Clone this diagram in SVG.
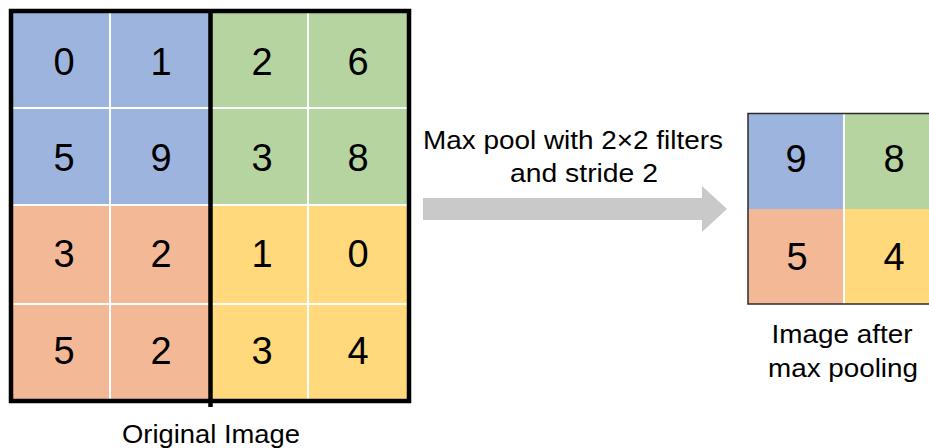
<svg xmlns="http://www.w3.org/2000/svg" width="929" height="448" viewBox="0 0 929 448">
<style>
.blue{fill:#9db4de}
.green{fill:#b5d4a0}
.orange{fill:#f3b996}
.yellow{fill:#ffd97b}
.sep{stroke:#ffffff;stroke-width:2;fill:none}
.num{font-family:"Liberation Sans",Arial,sans-serif;font-size:38px;fill:#000;text-anchor:middle}
.lbl{font-family:"Liberation Sans",Arial,sans-serif;font-size:26px;fill:#000;text-anchor:middle}
</style>
<rect width="929" height="448" fill="#ffffff"/>
<g id="original-image">
  <rect class="blue" x="13" y="13" width="196" height="192"/>
  <rect class="green" x="211" y="13" width="196" height="192"/>
  <rect class="orange" x="13" y="205" width="196" height="194"/>
  <rect class="yellow" x="211" y="205" width="196" height="194"/>
  <line class="sep" x1="110" y1="13" x2="110" y2="399"/>
  <line class="sep" x1="308" y1="13" x2="308" y2="399"/>
  <line class="sep" x1="13" y1="108" x2="407" y2="108"/>
  <line class="sep" x1="13" y1="205" x2="407" y2="205"/>
  <line class="sep" x1="13" y1="304" x2="407" y2="304"/>
  <rect x="11" y="11" width="398" height="390" fill="none" stroke="#000" stroke-width="4.5"/>
  <line x1="210.5" y1="9" x2="210.5" y2="407" stroke="#000" stroke-width="4.5"/>
  <text class="num" x="64" y="74.5">0</text>
  <text class="num" x="161" y="74.5">1</text>
  <text class="num" x="262" y="74.5">2</text>
  <text class="num" x="358" y="74.5">6</text>
  <text class="num" x="64" y="171">5</text>
  <text class="num" x="161" y="171">9</text>
  <text class="num" x="262" y="171">3</text>
  <text class="num" x="358" y="171">8</text>
  <text class="num" x="64" y="267">3</text>
  <text class="num" x="161" y="267">2</text>
  <text class="num" x="262" y="267">1</text>
  <text class="num" x="358" y="267">0</text>
  <text class="num" x="64" y="364">5</text>
  <text class="num" x="161" y="364">2</text>
  <text class="num" x="262" y="364">3</text>
  <text class="num" x="358" y="364">4</text>
  <text class="lbl" x="211" y="443" textLength="178" lengthAdjust="spacingAndGlyphs">Original Image</text>
</g>
<g id="connectors">
  <polygon points="423,198 702,198 702,186 727,209 702,232 702,220 423,220" fill="#c9c9c9"/>
  <text class="lbl" x="573" y="148.5" textLength="300" lengthAdjust="spacingAndGlyphs">Max pool with 2×2 filters</text>
  <text class="lbl" x="584" y="182" textLength="148" lengthAdjust="spacingAndGlyphs">and stride 2</text>
</g>
<g id="pooled-image">
  <rect class="blue" x="748" y="114" width="96" height="95"/>
  <rect class="green" x="844" y="114" width="100" height="95"/>
  <rect class="orange" x="748" y="209" width="96" height="95"/>
  <rect class="yellow" x="844" y="209" width="100" height="95"/>
  <line class="sep" x1="844" y1="114" x2="844" y2="304"/>
  <rect x="748" y="113.5" width="200" height="190.5" fill="none" stroke="#2b2b2b" stroke-width="1.5"/>
  <text class="num" x="796" y="171.5">9</text>
  <text class="num" x="894" y="171.5">8</text>
  <text class="num" x="797" y="270">5</text>
  <text class="num" x="894" y="270">4</text>
  <text class="lbl" x="842" y="343" textLength="141" lengthAdjust="spacingAndGlyphs">Image after</text>
  <text class="lbl" x="843" y="377" textLength="150" lengthAdjust="spacingAndGlyphs">max pooling</text>
</g>
</svg>
